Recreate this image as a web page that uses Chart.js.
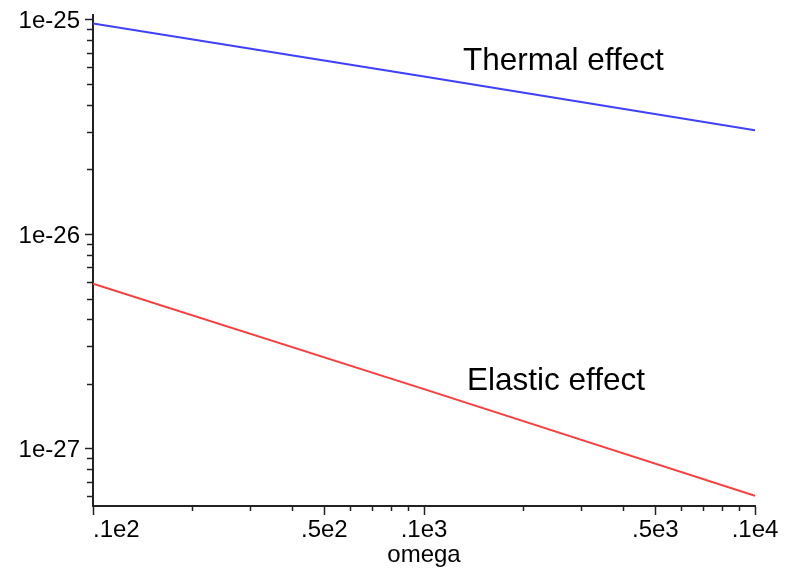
<!DOCTYPE html>
<html>
<head>
<meta charset="utf-8">
<script src="https://cdn.jsdelivr.net/npm/chart.js@4/dist/chart.umd.min.js"></script>
<style>
  html, body { margin: 0; padding: 0; background: #ffffff; }
  #wrap { width: 793px; height: 568px; }
</style>
</head>
<body>
<div id="wrap"><canvas id="c" width="793" height="568"></canvas></div>
<script>
// ---- data ----
const omega = [10, 100, 1000];
const thermalEffect = [9.63e-26, 5.45e-26, 3.06e-26];
const elasticEffect = [5.89e-27, 1.9e-27, 6.05e-28];

// ---- axis ticks ----
const xTickValues = [10, 50, 100, 500, 1000];
const xTickLabels = ['.1e2', '.5e2', '.1e3', '.5e3', '.1e4'];
const xMinorTicks = [20, 30, 40, 60, 70, 80, 90, 200, 300, 400, 600, 700, 800, 900];
const yTickValues = [1e-27, 1e-26, 1e-25];
const yTickLabels = ['1e-27', '1e-26', '1e-25'];
const yMinorTicks = [6e-28, 7e-28, 8e-28, 9e-28,
  2e-27, 3e-27, 4e-27, 5e-27, 6e-27, 7e-27, 8e-27, 9e-27,
  2e-26, 3e-26, 4e-26, 5e-26, 6e-26, 7e-26, 8e-26, 9e-26];
const xAxisTitle = 'omega';
const annotations = [
  { text: 'Thermal effect', x: 463, y: 70 },
  { text: 'Elastic effect', x: 467, y: 390 }
];

const X_MIN = 10, X_MAX = 1000;
const Y_MIN = 5.42e-28, Y_MAX = 1.055e-25;
const FONT = '"Liberation Sans", Arial, Helvetica, sans-serif';
const AXIS_COLOR = '#222222';

function zeroPad(s) { s.paddingTop = 0; s.paddingBottom = 0; s.paddingLeft = 0; s.paddingRight = 0; }

const textPlugin = {
  id: 'textPlugin',
  afterDraw(chart) {
    const ctx = chart.ctx;
    const xs = chart.scales.x;
    const area = chart.chartArea;
    ctx.save();
    ctx.fillStyle = '#000000';
    ctx.textBaseline = 'alphabetic';
    ctx.font = '24px ' + FONT;
    xTickValues.forEach((v, i) => {
      ctx.textAlign = i === 0 ? 'left' : 'center';
      ctx.fillText(xTickLabels[i], xs.getPixelForValue(v), 537);
    });
    ctx.textAlign = 'center';
    ctx.fillText(xAxisTitle, (area.left + area.right) / 2, 562);
    ctx.textAlign = 'left';
    ctx.font = '31.5px ' + FONT;
    annotations.forEach(a => ctx.fillText(a.text, a.x, a.y));
    ctx.restore();
  }
};

new Chart(document.getElementById('c'), {
  type: 'line',
  data: {
    datasets: [
      {
        label: 'Thermal effect',
        data: omega.map((w, i) => ({ x: w, y: thermalEffect[i] })),
        borderColor: '#3f3fff',
        borderWidth: 2,
        pointRadius: 0,
        tension: 0,
        fill: false,
        xAxisID: 'x', yAxisID: 'y'
      },
      {
        label: 'Elastic effect',
        data: omega.map((w, i) => ({ x: w, y: elasticEffect[i] })),
        borderColor: '#ff3c3c',
        borderWidth: 2,
        pointRadius: 0,
        tension: 0,
        fill: false,
        xAxisID: 'x', yAxisID: 'y'
      }
    ]
  },
  options: {
    responsive: false,
    animation: false,
    devicePixelRatio: 1,
    layout: { padding: { top: 15, right: 38, left: 0, bottom: 0 } },
    plugins: { legend: { display: false }, tooltip: { enabled: false }, title: { display: false } },
    scales: {
      x: {
        type: 'logarithmic', position: 'bottom', weight: 1,
        min: X_MIN, max: X_MAX,
        afterBuildTicks: s => { s.ticks = xTickValues.map(v => ({ value: v, major: true })); },
        afterFit: s => { s.height = 62; zeroPad(s); },
        ticks: { display: false, autoSkip: false },
        grid: { drawOnChartArea: false, drawTicks: true, tickLength: 9, tickColor: AXIS_COLOR, tickWidth: 1.5 },
        border: { display: true, color: AXIS_COLOR, width: 2 }
      },
      x2: {
        type: 'logarithmic', position: 'bottom', weight: 0,
        min: X_MIN, max: X_MAX,
        afterBuildTicks: s => { s.ticks = xMinorTicks.map(v => ({ value: v })); },
        afterFit: s => { s.height = 0; zeroPad(s); },
        ticks: { display: false, autoSkip: false },
        grid: { drawOnChartArea: false, drawTicks: true, tickLength: 5, tickColor: AXIS_COLOR, tickWidth: 1.5 },
        border: { display: false }
      },
      y: {
        type: 'logarithmic', position: 'left', weight: 1,
        min: Y_MIN, max: Y_MAX,
        afterBuildTicks: s => { s.ticks = yTickValues.map(v => ({ value: v, major: true })); },
        afterFit: s => { s.width = 93; zeroPad(s); },
        ticks: {
          autoSkip: false, padding: 5, color: '#000000', labelOffset: 1.5,
          font: { family: FONT, size: 24 },
          callback: (v, i) => yTickLabels[i]
        },
        grid: { drawOnChartArea: false, drawTicks: true, tickLength: 8, tickColor: AXIS_COLOR, tickWidth: 1.5 },
        border: { display: true, color: AXIS_COLOR, width: 2 }
      },
      y2: {
        type: 'logarithmic', position: 'left', weight: 0,
        min: Y_MIN, max: Y_MAX,
        afterBuildTicks: s => { s.ticks = yMinorTicks.map(v => ({ value: v })); },
        afterFit: s => { s.width = 0; zeroPad(s); },
        ticks: { display: false, autoSkip: false },
        grid: { drawOnChartArea: false, drawTicks: true, tickLength: 6, tickColor: AXIS_COLOR, tickWidth: 1.5 },
        border: { display: false }
      }
    }
  },
  plugins: [textPlugin]
});
</script>
</body>
</html>
